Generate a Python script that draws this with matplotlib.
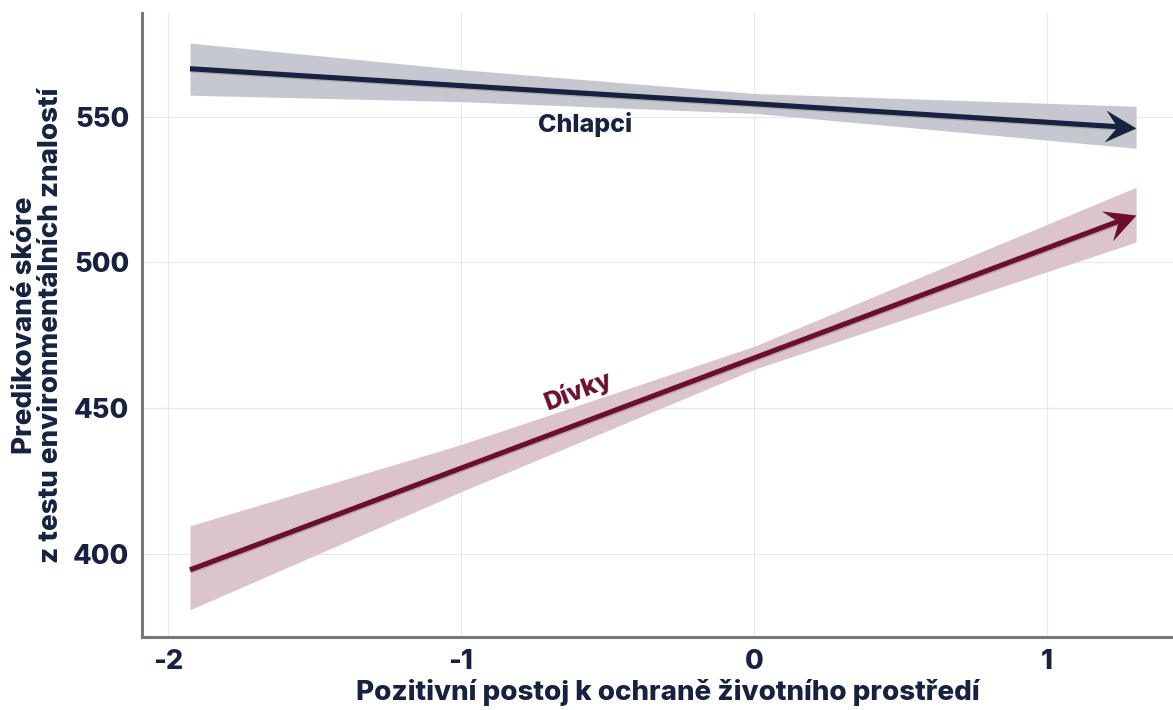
import numpy as np
import matplotlib
matplotlib.use('Agg')
import matplotlib.pyplot as plt
import matplotlib.patheffects as pe
from matplotlib.path import Path
from matplotlib.markers import MarkerStyle
from matplotlib.transforms import Affine2D

plt.rcParams['font.family'] = ['Inter', 'DejaVu Sans']
plt.rcParams['axes.unicode_minus'] = False

NAVY = '#16223f'
MAROON = '#6b0f2f'
W = 800

# predicted scores at a few points of the attitude scale
x_pts = [-1.925, -1.0, 0.0, 1.304]

boys_fit = [566.5, 560.7, 554.5, 546.2]
boys_lo = [557.4, 555.2, 551.2, 539.2]
boys_hi = [575.3, 566.2, 558.0, 553.6]

girls_fit = [394.5, 429.4, 467.2, 516.4]
girls_lo = [380.8, 421.3, 463.3, 507.0]
girls_hi = [409.6, 437.5, 471.2, 525.8]

x_ticks = [-2, -1, 0, 1]
y_ticks = [400, 450, 500, 550]

fig = plt.figure(figsize=(11.73, 7.10), dpi=100)
ax = fig.add_axes([0.121, 0.103, 0.879, 0.879])
ax.set_xlim(-2.089, 1.43)
ax.set_ylim(371.5, 585.7)

# stealth arrow head, tip at origin
head = Path([(0, 0), (-31, 16), (-19, 0), (-31, -16), (0, 0)],
            [Path.MOVETO, Path.LINETO, Path.LINETO, Path.LINETO, Path.CLOSEPOLY])

shadow = [pe.SimpleLineShadow(offset=(0.6, -1.0), alpha=0.15, shadow_color='k'), pe.Normal()]

for fit, lo, hi, col, band in [(boys_fit, boys_lo, boys_hi, NAVY, '#c5c8ce'),
                               (girls_fit, girls_lo, girls_hi, MAROON, '#dcc4cb')]:
    ax.fill_between(x_pts, lo, hi, color=band, lw=0, zorder=1)
    slope = (fit[-1] - fit[-2]) / (x_pts[-1] - x_pts[-2])
    ax.plot(x_pts[:-1] + [x_pts[-1] - 0.05], fit[:-1] + [fit[-1] - slope * 0.05],
            color=col, lw=3.7, solid_capstyle='butt', zorder=3, path_effects=shadow)
    p0 = ax.transData.transform((x_pts[-2], fit[-2]))
    p1 = ax.transData.transform((x_pts[-1], fit[-1]))
    ang = np.degrees(np.arctan2(p1[1] - p0[1], p1[0] - p0[0]))
    ax.plot([x_pts[-1]], [fit[-1]], ls='none', zorder=4,
            marker=MarkerStyle(head, transform=Affine2D().rotate_deg(ang)),
            markersize=44.6, color=col, markeredgewidth=0)

ax.text(-0.577, 547.3, 'Chlapci', color=NAVY, fontsize=18, fontweight=W,
        ha='center', va='center')
ax.text(-0.60, 456.0, 'Dívky', color=MAROON, fontsize=18, fontweight=W,
        ha='center', va='center', rotation=20.6)

ax.set_xticks(x_ticks)
ax.set_yticks(y_ticks)
ax.grid(True, color='#e9e9e9', lw=0.9, zorder=0)
ax.set_axisbelow(True)
ax.tick_params(length=0, labelsize=19.5, labelcolor=NAVY, pad=9)
for lab in ax.get_xticklabels() + ax.get_yticklabels():
    lab.set_fontweight(W)
for s in ['top', 'right']:
    ax.spines[s].set_visible(False)
for s in ['left', 'bottom']:
    ax.spines[s].set_color('#777777')
    ax.spines[s].set_linewidth(2.2)

ax.set_xlabel('Pozitivní postoj k ochraně životního prostředí', fontsize=20,
              fontweight=W, color=NAVY)
ax.xaxis.set_label_coords(0.51, -0.068)
ax.set_ylabel('Predikované skóre\nz testu environmentálních znalostí', fontsize=20,
              fontweight=W, color=NAVY, linespacing=1.0)
ax.yaxis.set_label_coords(-0.076, 0.5)

fig.savefig('out.png', dpi=100)
